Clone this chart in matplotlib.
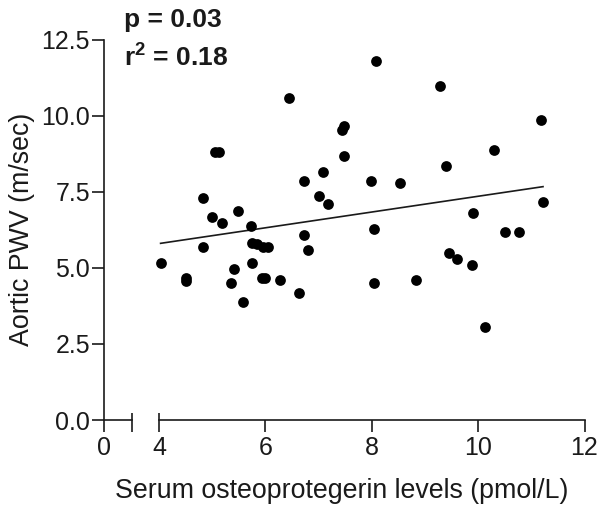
import matplotlib
matplotlib.use("Agg")
import matplotlib.pyplot as plt
from matplotlib.transforms import blended_transform_factory
import numpy as np

plt.rcParams["font.family"] = ["Liberation Sans", "DejaVu Sans"]
plt.rcParams["mathtext.fontset"] = "custom"
plt.rcParams["mathtext.rm"] = "Liberation Sans"
plt.rcParams["mathtext.bf"] = "Liberation Sans:bold"

# Serum osteoprotegerin (pmol/L) vs aortic pulse wave velocity (m/sec)
opg = [6.45, 7.48, 7.45, 7.47, 5.05, 5.12, 7.08, 6.73, 4.83, 7.01,
       7.18, 5.48, 5.00, 5.18, 5.73, 6.73, 6.80, 4.83, 5.74, 5.84,
       5.96, 6.05, 4.03, 4.51, 4.51, 5.41, 5.75, 5.35, 5.93, 6.00,
       6.27, 6.63, 5.58, 8.08, 9.29, 11.19, 10.30, 9.40, 7.98, 8.53,
       11.22, 9.91, 8.05, 10.50, 10.77, 9.46, 9.60, 9.89, 8.05, 8.84,
       10.12]
pwv = [10.58, 9.65, 9.54, 8.68, 8.79, 8.79, 8.16, 7.85, 7.28, 7.36,
       7.10, 6.86, 6.66, 6.48, 6.37, 6.08, 5.58, 5.69, 5.80, 5.78,
       5.69, 5.69, 5.17, 4.65, 4.55, 4.97, 5.17, 4.50, 4.68, 4.68,
       4.59, 4.18, 3.87, 11.79, 10.98, 9.87, 8.86, 8.36, 7.85, 7.80,
       7.17, 6.81, 6.29, 6.18, 6.18, 5.49, 5.30, 5.08, 4.50, 4.59,
       3.07]

# Linear regression line
slope = 0.259
intercept = 4.76

x_ticks_right = [4, 6, 8, 10, 12]
y_ticks = [0.0, 2.5, 5.0, 7.5, 10.0, 12.5]

W, H = 603, 508
fig = plt.figure(figsize=(W / 100, H / 100), dpi=100)

def frac(px_left, px_right, px_top, px_bottom):
    return [px_left / W, 1 - px_bottom / H, (px_right - px_left) / W,
            (px_bottom - px_top) / H]

ax1 = fig.add_axes(frac(104, 131.5, 39.5, 420))
ax2 = fig.add_axes(frac(159, 584.5, 39.5, 420), sharey=ax1)

lw = 1.2
tick_fs = 18
ink = "#1a1a1a"
for ax in (ax1, ax2):
    ax.set_facecolor("none")
    for s in ("top", "right"):
        ax.spines[s].set_visible(False)
    for s in ("bottom", "left"):
        ax.spines[s].set_linewidth(lw)
        ax.spines[s].set_color(ink)
    ax.tick_params(direction="out", length=8.5, width=lw, labelsize=tick_fs,
                   color=ink, labelcolor=ink)
    ax.tick_params(axis="x", pad=3)
    ax.tick_params(axis="y", pad=1.5)

ax1.set_xlim(0, 1)
ax1.set_xticks([0, 1])
ax1.set_xticklabels(["0", ""])
ax1.set_ylim(0, 12.5)
ax1.set_yticks(y_ticks)
ax1.set_yticklabels([f"{v:.1f}" for v in y_ticks])

ax2.set_xlim(4, 12)
ax2.set_xticks(x_ticks_right)
ax2.set_xticklabels([str(v) for v in x_ticks_right])
ax2.spines["left"].set_visible(False)
ax2.tick_params(axis="y", left=False, labelleft=False)

# break caps at the inner ends of the two axis segments
for ax, xpos in ((ax1, 1.0), (ax2, 0.0)):
    tr = blended_transform_factory(ax.transAxes, ax.transAxes)
    ax.plot([xpos, xpos], [0, 0.019], color=ink, lw=lw, transform=tr,
            clip_on=False, solid_capstyle="butt")

ax2.scatter(opg, pwv, s=60, color="black", zorder=3, clip_on=False,
            linewidths=0)

xs = np.array([min(opg), max(opg)])
ax2.plot(xs, intercept + slope * xs, color=ink, lw=1.2)

fig.text(35 / W, 1 - 229 / H, "Aortic PWV (m/sec)", rotation=90,
         ha="right", va="center", fontsize=19.3, color=ink)
fig.text(341.5 / W, 1 - 498.5 / H, "Serum osteoprotegerin levels (pmol/L)",
         ha="center", va="baseline", fontsize=19.3, color=ink)
fig.text(124 / W, 1 - 26.7 / H, "p = 0.03", ha="left", va="baseline",
         fontsize=19, fontweight="bold", color=ink)
fig.text(124 / W, 1 - 66.7 / H, r"$\mathbf{r^2}$ = 0.18", ha="left",
         va="baseline", fontsize=19, fontweight="bold", color=ink)

fig.savefig("out.png", dpi=100)
